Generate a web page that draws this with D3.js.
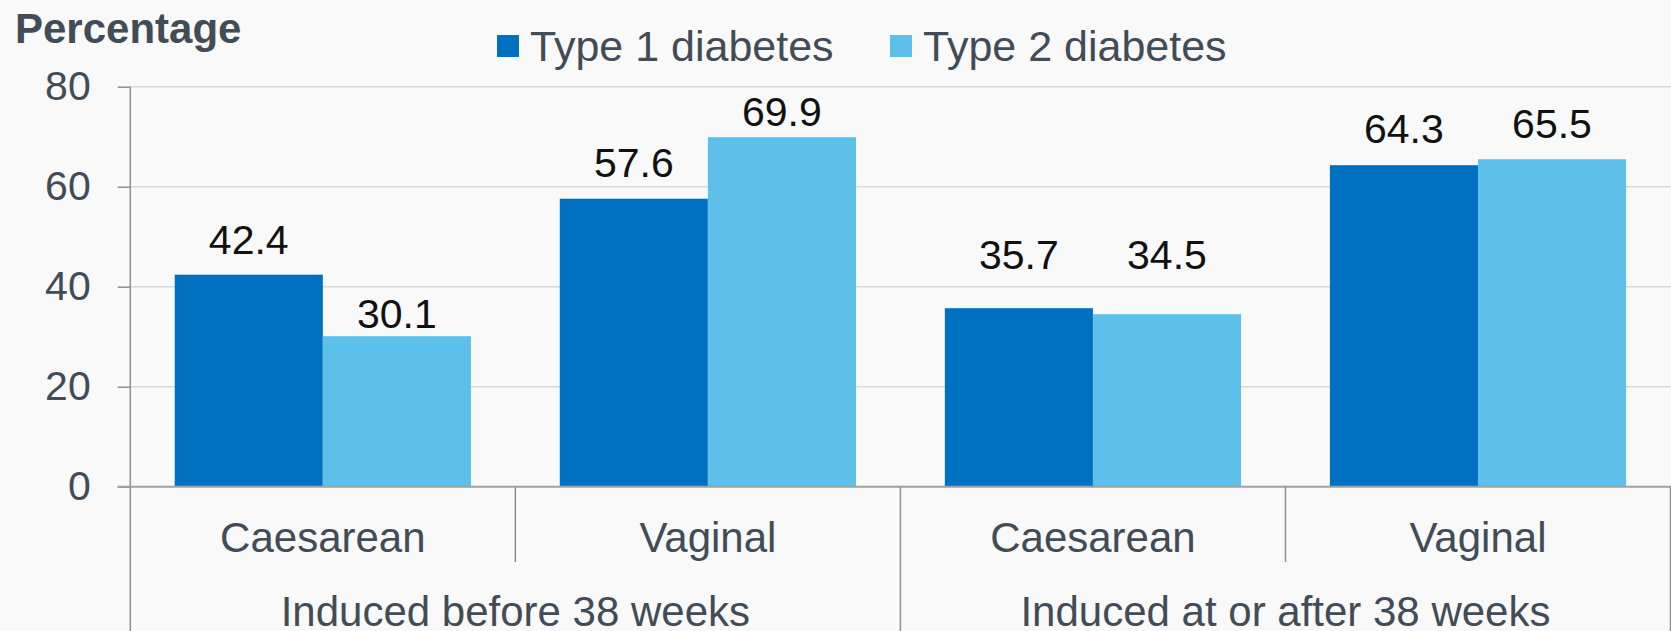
<!DOCTYPE html>
<html>
<head>
<meta charset="utf-8">
<script src="https://cdn.jsdelivr.net/npm/d3@7"></script>
<style>
    body { margin: 0; background: #f9f9f9; }
    text { font-family: "Liberation Sans", Arial, sans-serif; }
</style>
</head>
<body>
<div id="chart"></div>
<script>
var groups = ["Induced before 38 weeks", "Induced at or after 38 weeks"];
var deliveries = ["Caesarean", "Vaginal"];
var seriesNames = ["Type 1 diabetes", "Type 2 diabetes"];
var type1 = [42.4, 57.6, 35.7, 64.3];
var type2 = [30.1, 69.9, 34.5, 65.5];
var yTicks = [0, 20, 40, 60, 80];

// label gap above bar top (px), labels were hand placed in the original
var labelGap1 = [21, 22, 39, 22];
var labelGap2 = [8, 11, 45, 21];

var colors = ["#0070c0", "#5dc0ea"];
var textColor = "#424c57";

function createChart() {
    const width = 1671;
    const height = 631;
    const left = 130.3;
    const right = 1670.5;

    const svg = d3.select('#chart').append('svg')
        .attr('width', width)
        .attr('height', height);

    svg.append('rect')
        .attr('width', width)
        .attr('height', height)
        .attr('fill', '#f9f9f9');

    const y = d3.scaleLinear()
        .domain([0, 80])
        .range([486.7, 86.7]);

    const xGroup = d3.scaleBand()
        .domain(groups)
        .range([left, right]);

    const xCat = d3.scaleBand()
        .domain(deliveries)
        .range([0, xGroup.bandwidth()]);

    const xSeries = d3.scaleBand()
        .domain(seriesNames)
        .range([0, xCat.bandwidth()])
        .paddingOuter(0.3);

    // gridlines
    svg.append('g')
        .selectAll('line')
        .data(yTicks.filter(d => d > 0))
        .enter().append('line')
        .attr('x1', left)
        .attr('x2', width)
        .attr('y1', d => y(d))
        .attr('y2', d => y(d))
        .attr('stroke', '#d9d9d9')
        .attr('stroke-width', 1.5);

    // flatten rows
    const rows = [];
    groups.forEach((g, gi) => {
        deliveries.forEach((c, ci) => {
            const i = gi * deliveries.length + ci;
            rows.push({group: g, cat: c, i: i, values: [type1[i], type2[i]], gaps: [labelGap1[i], labelGap2[i]]});
        });
    });

    const bars = [];
    rows.forEach(r => {
        seriesNames.forEach((s, si) => {
            bars.push({group: r.group, cat: r.cat, series: s, si: si, value: r.values[si], gap: r.gaps[si]});
        });
    });

    const barX = d => xGroup(d.group) + xCat(d.cat) + xSeries(d.series);

    svg.append('g')
        .selectAll('rect')
        .data(bars)
        .enter().append('rect')
        .attr('x', d => barX(d))
        .attr('y', d => y(d.value))
        .attr('width', xSeries.bandwidth())
        .attr('height', d => y(0) - y(d.value))
        .attr('fill', d => colors[d.si]);

    svg.append('g')
        .selectAll('text')
        .data(bars)
        .enter().append('text')
        .attr('x', d => barX(d) + xSeries.bandwidth() / 2)
        .attr('y', d => y(d.value) - d.gap)
        .attr('text-anchor', 'middle')
        .attr('font-size', 41)
        .attr('fill', '#111')
        .text(d => d.value.toFixed(1));

    // y axis
    const yAxis = svg.append('g')
        .attr('transform', `translate(${left},0)`)
        .call(d3.axisLeft(y).tickValues(yTicks).tickSize(12.6).tickPadding(27));
    yAxis.select('.domain').remove();
    yAxis.selectAll('.tick line').attr('stroke', '#8f8f8f').attr('stroke-width', 1.5);
    yAxis.selectAll('.tick text')
        .attr('font-size', 41)
        .attr('fill', textColor)
        .attr('font-family', '"Liberation Sans", Arial, sans-serif');

    const axisColor = '#8f8f8f';
    // vertical axis line down to bottom
    svg.append('line')
        .attr('x1', left).attr('x2', left)
        .attr('y1', y(80)).attr('y2', height)
        .attr('stroke', axisColor).attr('stroke-width', 1.5);

    // baseline
    svg.append('line')
        .attr('x1', left - 12.6).attr('x2', width)
        .attr('y1', y(0)).attr('y2', y(0))
        .attr('stroke', '#a0a0a0').attr('stroke-width', 2);

    // separators between groups (full height) and categories (short)
    svg.append('g')
        .selectAll('line')
        .data(groups)
        .enter().append('line')
        .attr('x1', d => xGroup(d) + xGroup.bandwidth())
        .attr('x2', d => xGroup(d) + xGroup.bandwidth())
        .attr('y1', y(0))
        .attr('y2', height)
        .attr('stroke', axisColor).attr('stroke-width', 1.5);

    svg.append('g')
        .selectAll('line')
        .data(groups)
        .enter().append('line')
        .attr('x1', d => xGroup(d) + xCat('Vaginal'))
        .attr('x2', d => xGroup(d) + xCat('Vaginal'))
        .attr('y1', y(0))
        .attr('y2', 562)
        .attr('stroke', axisColor).attr('stroke-width', 1.5);

    // category labels
    svg.append('g')
        .selectAll('text')
        .data(rows)
        .enter().append('text')
        .attr('x', d => xGroup(d.group) + xCat(d.cat) + xCat.bandwidth() / 2)
        .attr('y', 551.5)
        .attr('text-anchor', 'middle')
        .attr('font-size', 42)
        .attr('fill', textColor)
        .text(d => d.cat);

    // group labels
    svg.append('g')
        .selectAll('text')
        .data(groups)
        .enter().append('text')
        .attr('x', d => xGroup(d) + xGroup.bandwidth() / 2)
        .attr('y', 625.5)
        .attr('text-anchor', 'middle')
        .attr('font-size', 42)
        .attr('fill', textColor)
        .text(d => d);

    // axis title
    svg.append('text')
        .attr('x', 15)
        .attr('y', 43.3)
        .attr('font-size', 42)
        .attr('font-weight', 'bold')
        .attr('fill', textColor)
        .text('Percentage');

    // legend
    const legendX = [497, 890];
    const legend = svg.append('g')
        .selectAll('g')
        .data(seriesNames)
        .enter().append('g')
        .attr('transform', (d, i) => `translate(${legendX[i]},0)`);
    legend.append('rect')
        .attr('x', 0).attr('y', 35)
        .attr('width', 22).attr('height', 22)
        .attr('fill', (d, i) => colors[i]);
    legend.append('text')
        .attr('x', 33)
        .attr('y', 61)
        .attr('font-size', 43)
        .attr('fill', textColor)
        .text(d => d);
}

createChart();
</script>
</body>
</html>
